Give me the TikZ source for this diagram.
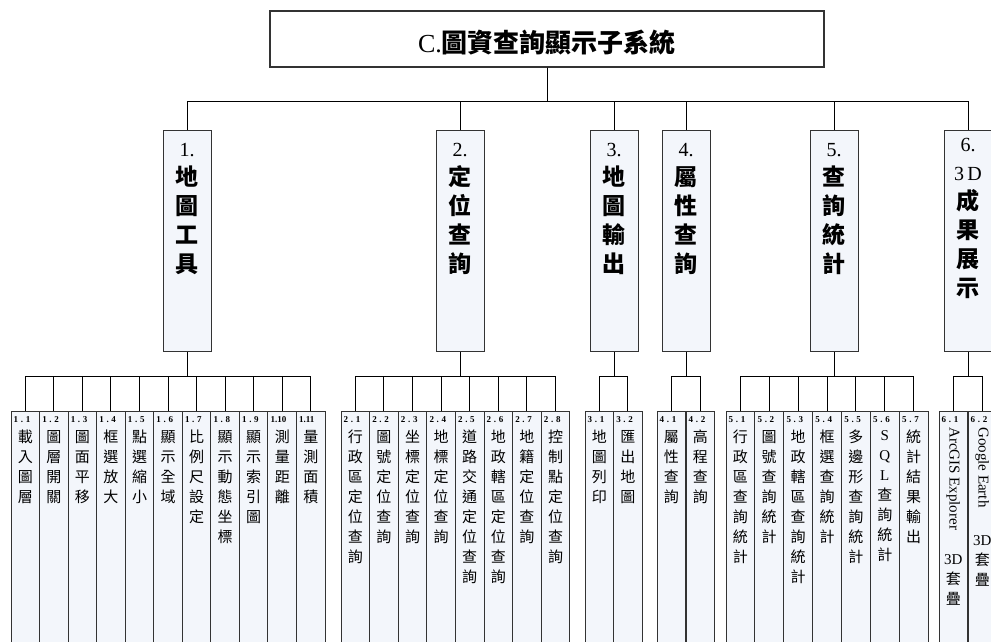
\documentclass[tikz,border=0pt]{standalone}
\usepackage{fontspec}
\setmainfont{Liberation Serif}
\newfontfamily\cjk{Noto Sans CJK TC}
\newfontfamily\lblf[LetterSpace=30]{Liberation Serif}
\definecolor{boxfill}{HTML}{F3F6FB}
\definecolor{boxline}{HTML}{333333}
\tikzset{
  topbox/.style={draw=boxline, line width=1.1pt, fill=white, minimum width=554pt, minimum height=56pt, inner sep=0pt},
  toptext/.style={inner sep=0pt, font=\fontsize{26}{30}\selectfont},
  midbox/.style={draw=boxline, line width=1pt, fill=boxfill, minimum width=48pt, minimum height=221pt, inner sep=0pt, anchor=north},
  midtext/.style={inner sep=0pt, anchor=north, align=center, font=\fontsize{20}{29}\selectfont},
  leafbox/.style={draw=boxline, line width=1pt, fill=boxfill, minimum width=28.6pt, minimum height=240pt, inner sep=0pt, anchor=north},
  leafnum/.style={inner sep=0pt, anchor=north west, font=\lblf\bfseries\fontsize{9}{9}\selectfont},
  leafchars/.style={inner sep=0pt, anchor=north, align=center, font=\cjk\fontsize{15}{20}\selectfont},
  rottext/.style={inner sep=0pt, rotate=-90, anchor=west, font=\fontsize{15}{15}\selectfont},
  conn/.style={line width=1pt, black}
}
\newcommand\mc[1]{{\cjk\bfseries\fontsize{23}{29}\selectfont #1}}
\newcommand\leafnode[4]{%
  \node[leafbox] (#1) at (#2+14.3,411) {};
  \node[leafnum] (#1n) at ([xshift=3pt,yshift=-5pt]#1.north west) {#3};
  \node[leafchars] (#1c) at ([yshift=-19pt]#1.north) {#4};
}
\begin{document}
\begin{tikzpicture}[x=1pt,y=-1pt]
\useasboundingbox (0,0) rectangle (991,641);
\clip (0,0) rectangle (991,641);

% top
\node[topbox] (top) at (547,39) {};
\node[toptext] (toptxt) at ([yshift=-4pt]top.center) {C.{\cjk\bfseries 圖資查詢顯示子系統}};

% level 2
\node[midbox] (b1) at (187,130) {};
\node[midbox] (b2) at (460,130) {};
\node[midbox] (b3) at (614,130) {};
\node[midbox] (b4) at (686,130) {};
\node[midbox] (b5) at (834,130) {};
\node[midbox] (b6) at (968,130) {};
\node[midtext] (b1t) at ([yshift=-13pt]b1.north) {1.\\\mc{地}\\\mc{圖}\\\mc{工}\\\mc{具}};
\node[midtext] (b2t) at ([yshift=-13pt]b2.north) {2.\\\mc{定}\\\mc{位}\\\mc{查}\\\mc{詢}};
\node[midtext] (b3t) at ([yshift=-13pt]b3.north) {3.\\\mc{地}\\\mc{圖}\\\mc{輸}\\\mc{出}};
\node[midtext] (b4t) at ([yshift=-13pt]b4.north) {4.\\\mc{屬}\\\mc{性}\\\mc{查}\\\mc{詢}};
\node[midtext] (b5t) at ([yshift=-13pt]b5.north) {5.\\\mc{查}\\\mc{詢}\\\mc{統}\\\mc{計}};
\node[midtext] (b6t) at ([yshift=-8pt]b6.north) {6.\\3\,D\\\mc{成}\\\mc{果}\\\mc{展}\\\mc{示}};

\foreach \b in {b1,b2,b3,b4,b5,b6}
  \draw[conn] (top.south) -- ([yshift=-34pt]top.south) -| (\b.north);

% group 1
\leafnode{l11}{11}{1.1}{載\\入\\圖\\層}
\leafnode{l12}{39.55}{1.2}{圖\\層\\開\\關}
\leafnode{l13}{68.1}{1.3}{圖\\面\\平\\移}
\leafnode{l14}{96.65}{1.4}{框\\選\\放\\大}
\leafnode{l15}{125.2}{1.5}{點\\選\\縮\\小}
\leafnode{l16}{153.75}{1.6}{顯\\示\\全\\域}
\leafnode{l17}{182.3}{1.7}{比\\例\\尺\\設\\定}
\leafnode{l18}{210.85}{1.8}{顯\\示\\動\\態\\坐\\標}
\leafnode{l19}{239.4}{1.9}{顯\\示\\索\\引\\圖}
\leafnode{l110}{267.95}{\rmfamily\bfseries 1.10}{測\\量\\距\\離}
\leafnode{l111}{296.5}{\rmfamily\bfseries 1.11}{量\\測\\面\\積}
\foreach \l in {l11,l12,l13,l14,l15,l16,l17,l18,l19,l110,l111}
  \draw[conn] (b1.south) -- ([yshift=-24pt]b1.south) -| (\l.north);

% group 2
\leafnode{l21}{341}{2.1}{行\\政\\區\\定\\位\\查\\詢}
\leafnode{l22}{369.6}{2.2}{圖\\號\\定\\位\\查\\詢}
\leafnode{l23}{398.2}{2.3}{坐\\標\\定\\位\\查\\詢}
\leafnode{l24}{426.8}{2.4}{地\\標\\定\\位\\查\\詢}
\leafnode{l25}{455.4}{2.5}{道\\路\\交\\通\\定\\位\\查\\詢}
\leafnode{l26}{484}{2.6}{地\\政\\轄\\區\\定\\位\\查\\詢}
\leafnode{l27}{512.6}{2.7}{地\\籍\\定\\位\\查\\詢}
\leafnode{l28}{541.2}{2.8}{控\\制\\點\\定\\位\\查\\詢}
\foreach \l in {l21,l22,l23,l24,l25,l26,l27,l28}
  \draw[conn] (b2.south) -- ([yshift=-24pt]b2.south) -| (\l.north);

% group 3
\leafnode{l31}{585}{3.1}{地\\圖\\列\\印}
\leafnode{l32}{613.6}{3.2}{匯\\出\\地\\圖}
\foreach \l in {l31,l32}
  \draw[conn] (b3.south) -- ([yshift=-24pt]b3.south) -| (\l.north);

% group 4
\leafnode{l41}{657}{4.1}{屬\\性\\查\\詢}
\leafnode{l42}{686}{4.2}{高\\程\\查\\詢}
\foreach \l in {l41,l42}
  \draw[conn] (b4.south) -- ([yshift=-24pt]b4.south) -| (\l.north);

% group 5
\leafnode{l51}{726}{5.1}{行\\政\\區\\查\\詢\\統\\計}
\leafnode{l52}{754.9}{5.2}{圖\\號\\查\\詢\\統\\計}
\leafnode{l53}{783.8}{5.3}{地\\政\\轄\\區\\查\\詢\\統\\計}
\leafnode{l54}{812.7}{5.4}{框\\選\\查\\詢\\統\\計}
\leafnode{l55}{841.6}{5.5}{多\\邊\\形\\查\\詢\\統\\計}
\leafnode{l56}{870.5}{5.6}{{\rmfamily S}\\{\rmfamily Q}\\{\rmfamily L}\\查\\詢\\統\\計}
\leafnode{l57}{899.4}{5.7}{統\\計\\結\\果\\輸\\出}
\foreach \l in {l51,l52,l53,l54,l55,l56,l57}
  \draw[conn] (b5.south) -- ([yshift=-24pt]b5.south) -| (\l.north);

% group 6
\node[leafbox] (l61) at (939+14.3,411) {};
\node[leafnum] (l61n) at ([xshift=3pt,yshift=-5pt]l61.north west) {6.1};
\node[rottext] (l61r) at ([yshift=-16pt]l61.north) {ArcGIS Explorer};
\node[leafchars] (l61c) at ([yshift=-143pt]l61.north) {{\rmfamily 3D}\\套\\疊};
\node[leafbox] (l62) at (968+14.3,411) {};
\node[leafnum] (l62n) at ([xshift=3pt,yshift=-5pt]l62.north west) {6.2};
\node[rottext] (l62r) at ([yshift=-16pt]l62.north) {Google Earth};
\node[leafchars] (l62c) at ([yshift=-124pt]l62.north) {{\rmfamily 3D}\\套\\疊};
\foreach \l in {l61,l62}
  \draw[conn] (b6.south) -- ([yshift=-24pt]b6.south) -| (\l.north);
\end{tikzpicture}
\end{document}
